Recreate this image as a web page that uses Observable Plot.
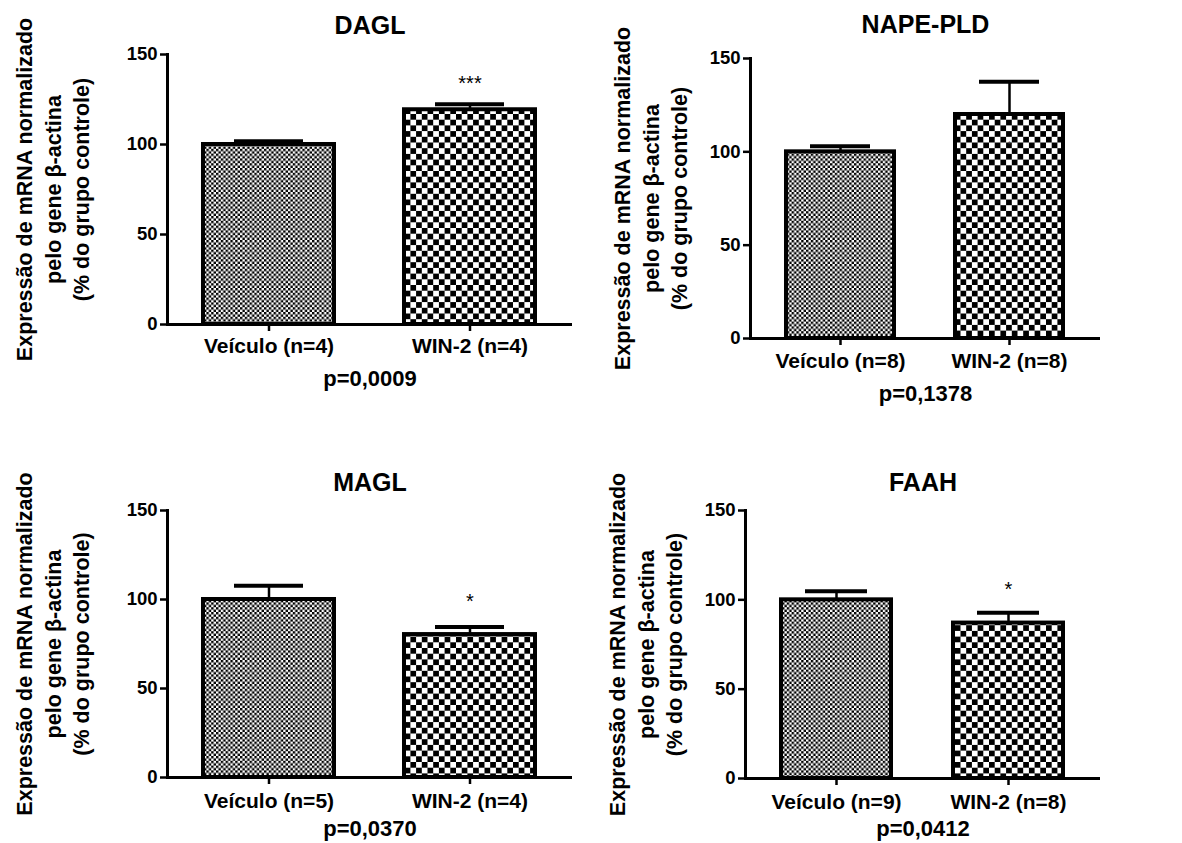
<!DOCTYPE html>
<html>
<head>
<meta charset="utf-8">
<script src="https://cdn.jsdelivr.net/npm/d3@7"></script>
<script src="https://cdn.jsdelivr.net/npm/@observablehq/plot@0.6"></script>
<style>
  body { margin: 0; background: #fff; }
  #root { position: relative; width: 1182px; height: 843px; overflow: hidden; background: #fff; }
  .panel { position: absolute; }
</style>
</head>
<body>
<svg width="0" height="0" style="position:absolute">
  <defs>
    <pattern id="patFine" width="4.8" height="4.8" patternUnits="userSpaceOnUse">
      <rect width="4.8" height="4.8" fill="#fff"/>
      <rect width="2.4" height="2.4" fill="#000"/>
      <rect x="2.4" y="2.4" width="2.4" height="2.4" fill="#000"/>
    </pattern>
    <pattern id="patCoarse" width="11.4" height="11.4" patternUnits="userSpaceOnUse">
      <rect width="11.4" height="11.4" fill="#fff"/>
      <rect width="5.7" height="5.7" fill="#000"/>
      <rect x="5.7" y="5.7" width="5.7" height="5.7" fill="#000"/>
    </pattern>
  </defs>
</svg>
<div id="root"></div>
<script>
// ---------- data ----------
const panelNames = ["DAGL", "NAPE-PLD", "MAGL", "FAAH"];
const groupNames = ["Veículo", "WIN-2"];
const nVehicle = [4, 8, 5, 9];
const nWin = [4, 8, 4, 8];
const meanVehicle = [100, 100, 100, 100];
const meanWin = [119.3, 120, 80.3, 87];
const semVehicle = [1.8, 3, 7.7, 4.8];
const semWin = [3, 17.5, 4.2, 5.8];
const pValues = ["p=0,0009", "p=0,1378", "p=0,0370", "p=0,0412"];
const sigLabels = ["***", "*", "*", "*"];
const sigY = [134, 104, 99, 106];
const yTicks = [0, 50, 100, 150];
const yTitle = "Expressão de mRNA normalizado\npelo gene β-actina\n(% do grupo controle)";

// ---------- layout (pixels / styles only) ----------
const layout = [
  {left: 0,   top: 0,   width: 590, height: 420, mL: 167, mR: 18, mT: 54, mB: 96, pin: 0.347, pout: 0.176, cap: 31, titleDy: -29, pDy: 54, tickPad: 7, yTitleDx: -116, sigSize: 20},
  {left: 590, top: 0,   width: 592, height: 420, mL: 160, mR: 82, mT: 58, mB: 82, pin: 0.36, pout: 0.21, cap: 24, titleDy: -34, pDy: 55, tickPad: 8, yTitleDx: -101, sigSize: 9},
  {left: 0,   top: 420, width: 590, height: 423, mL: 167, mR: 18, mT: 90, mB: 66, pin: 0.347, pout: 0.176, cap: 31, titleDy: -28, pDy: 51, tickPad: 9, yTitleDx: -116, sigSize: 20},
  {left: 590, top: 420, width: 592, height: 423, mL: 155, mR: 82, mT: 90, mB: 65, pin: 0.36, pout: 0.21, cap: 24, titleDy: -28, pDy: 50, tickPad: 9, yTitleDx: -101, sigSize: 20}
];

const font = "'Liberation Sans', Arial, Helvetica, sans-serif";
const root = document.getElementById("root");

panelNames.forEach((name, i) => {
  const L = layout[i];
  const data = [
    {group: groupNames[0], label: `${groupNames[0]} (n=${nVehicle[i]})`, mean: meanVehicle[i], sem: semVehicle[i]},
    {group: groupNames[1], label: `${groupNames[1]} (n=${nWin[i]})`, mean: meanWin[i], sem: semWin[i]}
  ];
  const sig = [{label: data[1].label, y: sigY[i], text: sigLabels[i]}];

  const plot = Plot.plot({
    width: L.width,
    height: L.height,
    marginLeft: L.mL,
    marginRight: L.mR,
    marginTop: L.mT,
    marginBottom: L.mB,
    style: {fontFamily: font, fontWeight: "bold", color: "#000", background: "transparent", overflow: "visible"},
    x: {domain: data.map(d => d.label), paddingInner: L.pin, paddingOuter: L.pout},
    y: {domain: [0, 150]},
    marks: [
      Plot.barY(data, {filter: d => d.group === groupNames[0], x: "label", y: "mean", fill: "url(#patFine)", stroke: "#000", strokeWidth: 4}),
      Plot.barY(data, {filter: d => d.group === groupNames[1], x: "label", y: "mean", fill: "url(#patCoarse)", stroke: "#000", strokeWidth: 4}),
      Plot.ruleX(data, {x: "label", y1: "mean", y2: d => d.mean + d.sem, stroke: "#000", strokeWidth: 2.5}),
      Plot.tickY(data, {x: "label", y: d => d.mean + d.sem, stroke: "#000", strokeWidth: 4, insetLeft: L.cap, insetRight: L.cap}),
      Plot.text(sig, {x: "label", y: "y", text: "text", fontSize: L.sigSize, fontWeight: "normal", fill: i === 1 ? "#444" : "#000"}),
      Plot.ruleY([0], {stroke: "#000", strokeWidth: 3}),
      Plot.frame({anchor: "left", stroke: "#000", strokeWidth: 3}),
      Plot.axisY({ticks: yTicks, tickSize: 7, tickPadding: 3, fontSize: 18.5, fontWeight: "bold", strokeWidth: 2.5, label: null}),
      Plot.axisX({tickSize: 7, tickPadding: L.tickPad, fontSize: 21, fontWeight: "bold", strokeWidth: 2.5, label: null}),
      Plot.text([name], {text: d => d, frameAnchor: "top", lineAnchor: "middle", dy: L.titleDy, fontSize: 25, fontWeight: "bold"}),
      Plot.text([pValues[i]], {text: d => d, frameAnchor: "bottom", lineAnchor: "middle", dy: L.pDy, fontSize: 22, fontWeight: "bold"}),
      Plot.text([yTitle], {text: d => d, frameAnchor: "left", textAnchor: "middle", lineAnchor: "middle", dx: L.yTitleDx, rotate: -90, fontSize: 21.5, fontWeight: "bold", lineHeight: 1.33})
    ]
  });
  const div = document.createElement("div");
  div.className = "panel";
  div.style.left = L.left + "px";
  div.style.top = L.top + "px";
  div.appendChild(plot);
  root.appendChild(div);
});
</script>
</body>
</html>
